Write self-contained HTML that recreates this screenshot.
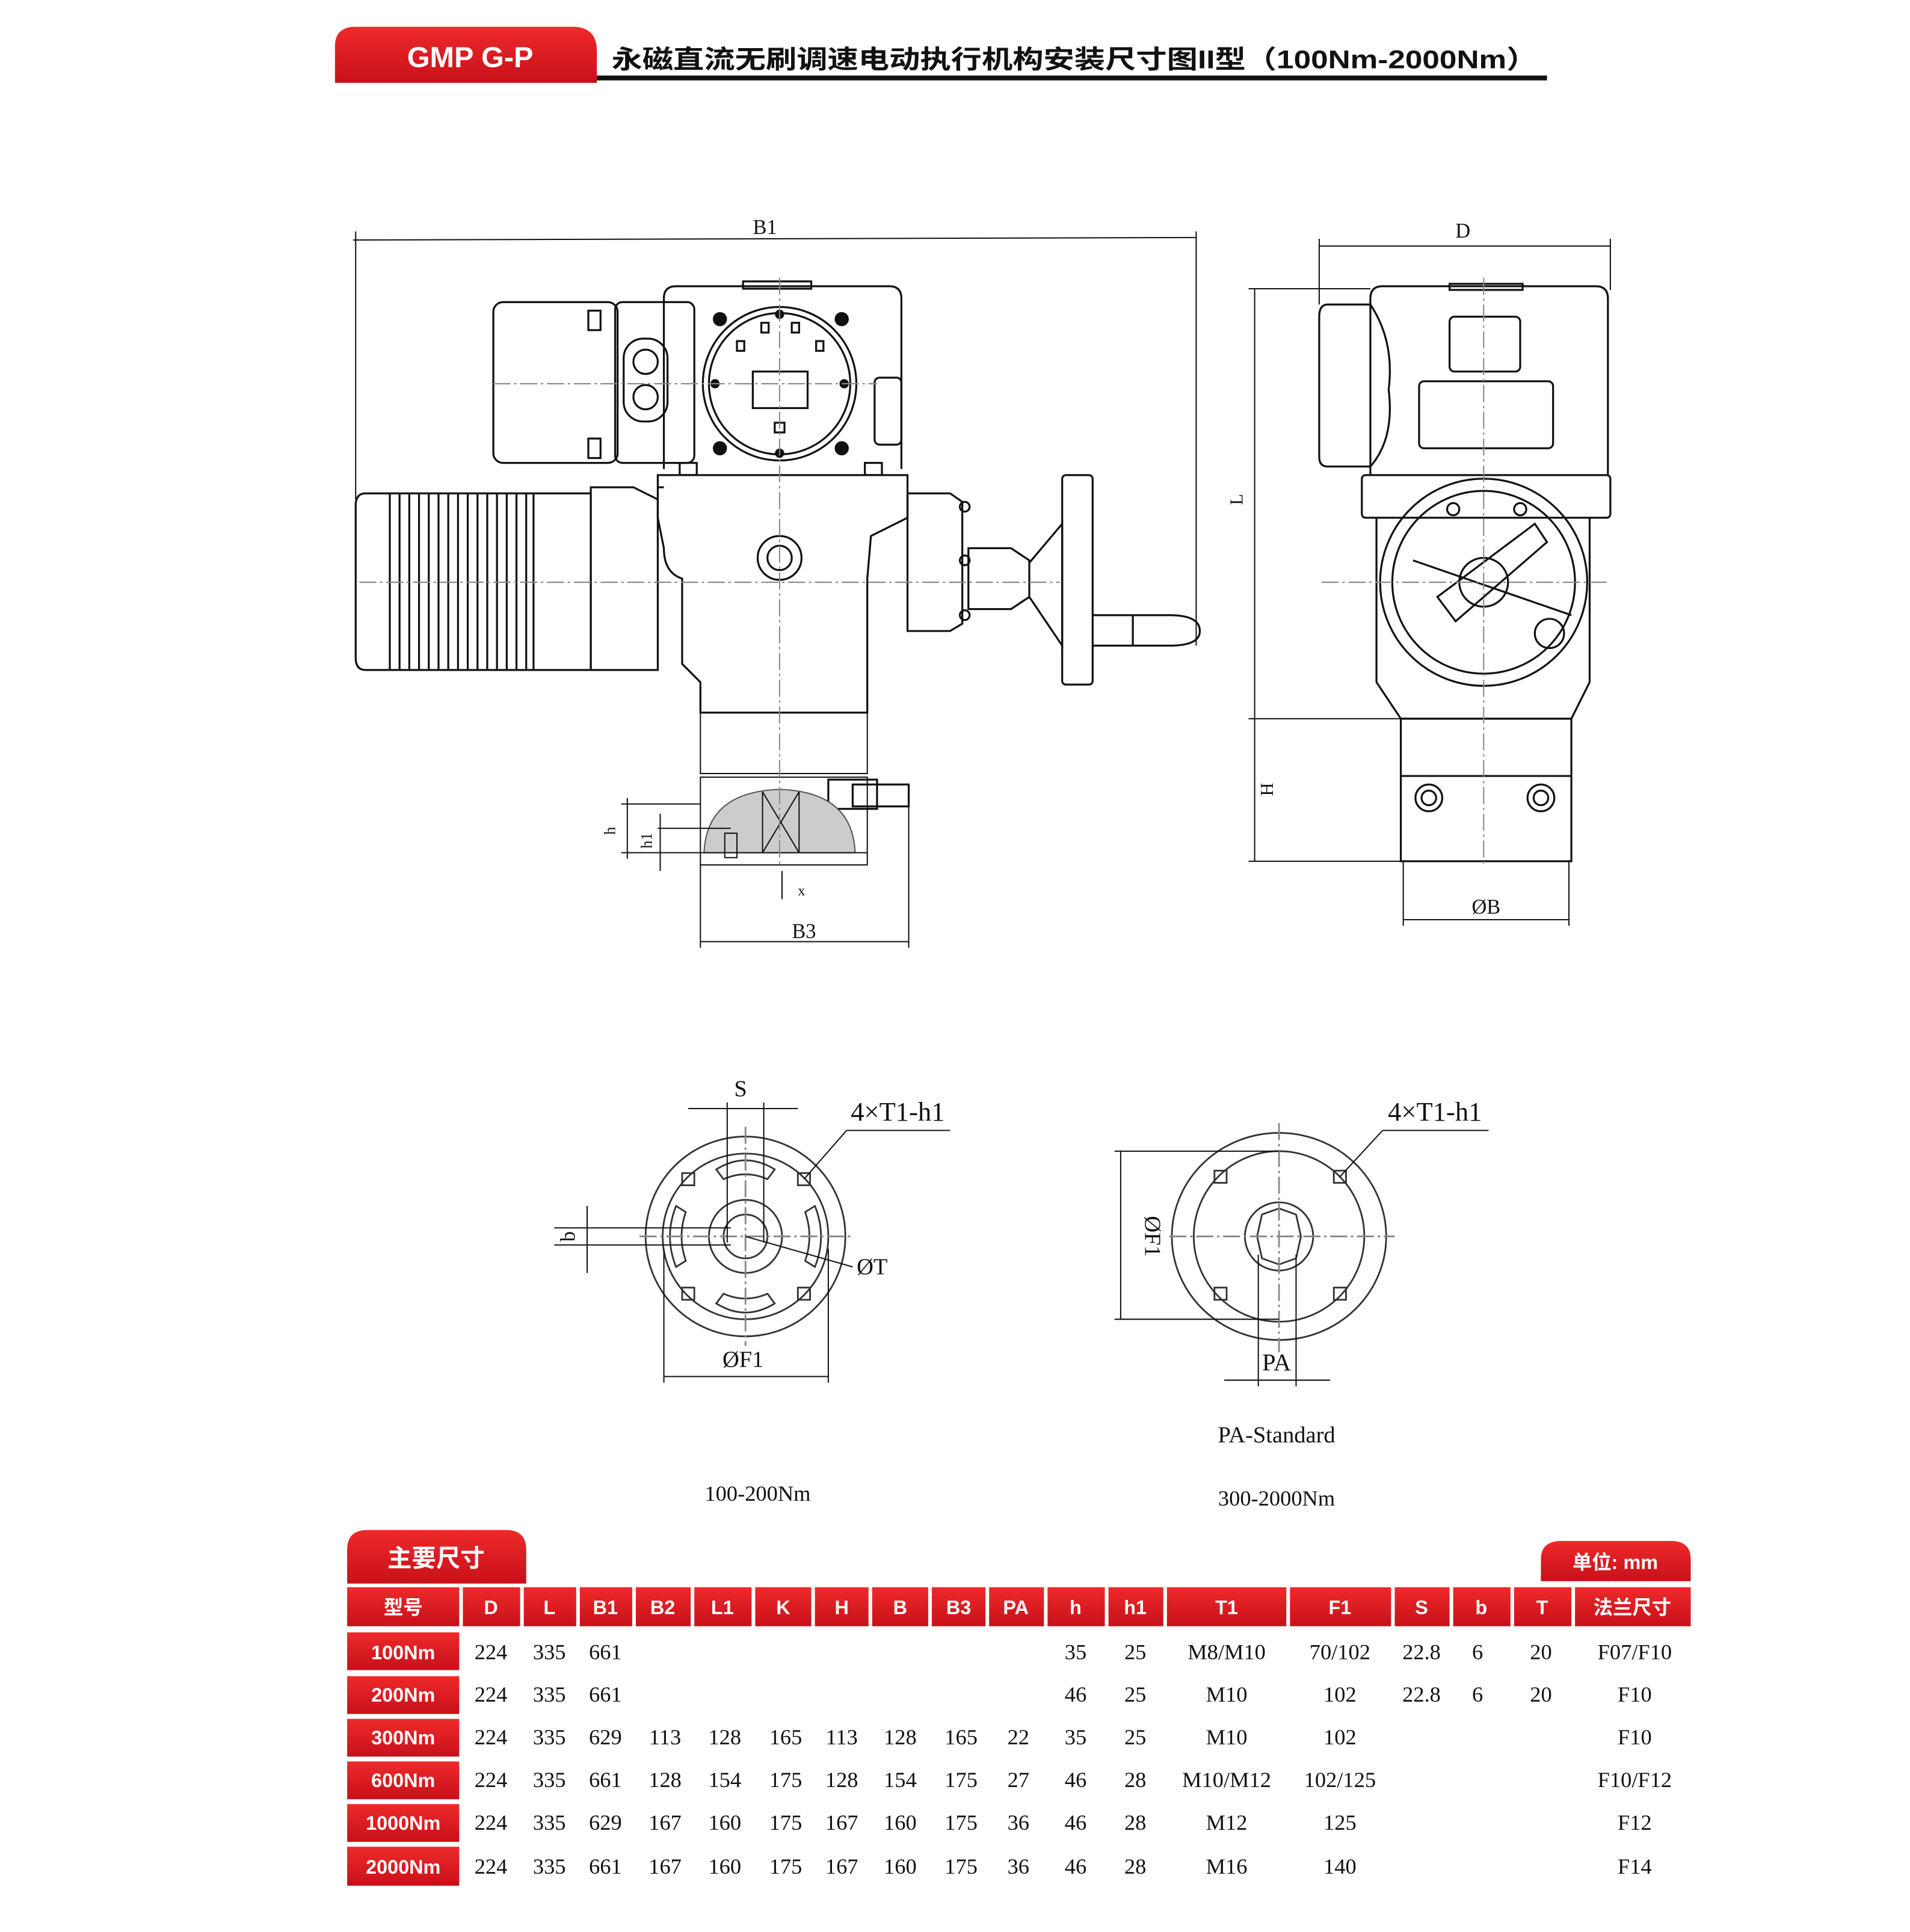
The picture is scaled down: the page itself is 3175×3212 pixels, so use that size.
<!DOCTYPE html>
<html><head><meta charset="utf-8"><style>
html,body{margin:0;padding:0;background:#fff;}
svg{display:block;}
.t{font-family:"Liberation Serif",serif;fill:#111;}
.cn{font-family:"Liberation Sans","Noto Sans CJK SC",sans-serif;}
</style></head><body>
<svg width="3175" height="3212" viewBox="0 0 1568 1586" preserveAspectRatio="none" xmlns="http://www.w3.org/2000/svg">
<defs>
<linearGradient id="rg" x1="0" y1="0" x2="0" y2="1"><stop offset="0" stop-color="#ee2a2a"/><stop offset="1" stop-color="#c8101a"/></linearGradient>
</defs>
<rect width="1568" height="1586" fill="#fff"/>
<!-- header -->
<path d="M275 68 L275 38 Q275 22 292 22 L470 22 Q490 22 490 42 L490 68 Z" fill="url(#rg)"/>
<text x="386" y="55" text-anchor="middle" class="cn" font-size="24" font-weight="bold" fill="#fff">GMP G-P</text>
<text x="502" y="56" class="cn" font-size="21" font-weight="bold" fill="#111" textLength="760" lengthAdjust="spacingAndGlyphs">永磁直流无刷调速电动执行机构安装尺寸图II型（100Nm-2000Nm）</text>
<rect x="490" y="62" width="780" height="4" fill="#111"/>

<g fill="none" stroke="#111" stroke-width="1.6">
<!-- B1 dimension -->
<line x1="290" y1="197" x2="982" y2="195" stroke-width="1"/>
<line x1="292" y1="190" x2="292" y2="410" stroke-width="1"/>
<line x1="982" y1="190" x2="982" y2="530" stroke-width="1"/>
<!-- terminal box -->
<rect x="405" y="248" width="102" height="132" rx="8"/>
<rect x="483" y="255" width="10" height="16"/><rect x="483" y="360" width="10" height="16"/>
<rect x="505" y="248" width="65" height="132" rx="6"/>
<rect x="512" y="278" width="36" height="68" rx="16"/>
<circle cx="530" cy="297" r="10"/><circle cx="530" cy="326" r="10"/>
<!-- control box -->
<path d="M545 385 L545 245 Q545 235 555 235 L730 235 Q740 235 740 245 L740 385"/>
<rect x="610" y="231" width="56" height="6"/>
<circle cx="640" cy="315" r="63"/><circle cx="640" cy="315" r="58"/>
<circle cx="591" cy="262" r="5" fill="#111"/><circle cx="691" cy="262" r="5" fill="#111"/>
<circle cx="591" cy="368" r="5" fill="#111"/><circle cx="691" cy="368" r="5" fill="#111"/>
<circle cx="640" cy="258" r="3" fill="#111"/><circle cx="640" cy="372" r="3" fill="#111"/>
<circle cx="587" cy="315" r="3" fill="#111"/><circle cx="693" cy="315" r="3" fill="#111"/>
<rect x="618" y="305" width="45" height="30"/>
<rect x="636" y="347" width="8" height="8"/>
<rect x="625" y="265" width="6" height="8"/><rect x="650" y="265" width="6" height="8"/>
<rect x="605" y="280" width="6" height="8"/><rect x="670" y="280" width="6" height="8"/>
<rect x="718" y="310" width="22" height="55" rx="4"/>
<rect x="558" y="380" width="14" height="10"/><rect x="710" y="380" width="14" height="10"/>
<!-- gearbox -->
<path d="M540 390 L745 390 L745 425 L715 440 L712 475 L712 585 L575 585 L575 560 L560 545 L560 475 Q545 470 545 450 L540 425 Z"/>
<circle cx="640" cy="458" r="18"/><circle cx="640" cy="458" r="10"/>
<!-- motor -->
<path d="M300 405 L485 405 L485 550 L300 550 Q292 550 292 540 L292 415 Q292 405 300 405 Z"/>
<path d="M485 400 L520 400 L540 410 L540 550 L485 550 Z"/>
<line x1="540" y1="400" x2="545" y2="400"/>
</g>
<g stroke="#111" stroke-width="1.6">
<line x1="320" y1="405" x2="320" y2="550"/><line x1="328" y1="405" x2="328" y2="550"/>
<line x1="336" y1="405" x2="336" y2="550"/><line x1="344" y1="405" x2="344" y2="550"/>
<line x1="352" y1="405" x2="352" y2="550"/><line x1="360" y1="405" x2="360" y2="550"/>
<line x1="368" y1="405" x2="368" y2="550"/><line x1="376" y1="405" x2="376" y2="550"/>
<line x1="384" y1="405" x2="384" y2="550"/><line x1="392" y1="405" x2="392" y2="550"/>
<line x1="400" y1="405" x2="400" y2="550"/><line x1="408" y1="405" x2="408" y2="550"/>
<line x1="416" y1="405" x2="416" y2="550"/><line x1="424" y1="405" x2="424" y2="550"/>
<line x1="432" y1="405" x2="432" y2="550"/><line x1="438" y1="405" x2="438" y2="550"/>
</g>
<g fill="none" stroke="#111" stroke-width="1.6">
<!-- right gear & handwheel -->
<path d="M745 405 L780 405 L790 412 L790 512 L780 518 L745 518 Z"/>
<circle cx="792" cy="416" r="4"/><circle cx="792" cy="460" r="4"/><circle cx="792" cy="505" r="4"/>
<path d="M795 450 L830 450 L845 460 L845 490 L830 500 L795 500 Z"/>
<path d="M845 462 L872 430 L872 530 L845 490"/>
<rect x="872" y="390" width="25" height="172" rx="3"/>
<path d="M897 505 L960 505 Q985 505 985 518 Q985 530 960 530 L897 530"/>
<line x1="930" y1="505" x2="930" y2="530"/>
<!-- lower parts -->
<rect x="575" y="585" width="137" height="50" stroke-width="1"/>
<rect x="575" y="638" width="137" height="72" stroke-width="1"/>
<rect x="680" y="640" width="40" height="24"/>
<rect x="700" y="644" width="46" height="18"/>
</g>
<path d="M578 700 Q580 650 640 648 Q700 650 702 700 Z" fill="#ccc" stroke="#555" stroke-width="1"/>
<g fill="none" stroke="#111" stroke-width="1">
<line x1="626" y1="650" x2="626" y2="700"/><line x1="656" y1="650" x2="656" y2="700"/>
<line x1="626" y1="650" x2="656" y2="700"/><line x1="656" y1="650" x2="626" y2="700"/>
<rect x="595" y="684" width="10" height="20"/>
<line x1="510" y1="660" x2="575" y2="660"/><line x1="510" y1="700" x2="712" y2="700"/>
<line x1="540" y1="680" x2="600" y2="680"/>
<line x1="515" y1="655" x2="515" y2="705"/><line x1="542" y1="668" x2="542" y2="715"/>
<line x1="642" y1="715" x2="642" y2="738"/>
<line x1="575" y1="710" x2="575" y2="778"/><line x1="746" y1="660" x2="746" y2="778"/>
<line x1="575" y1="773" x2="746" y2="773"/>
<!-- centerlines -->
<line x1="640" y1="228" x2="640" y2="712" stroke="#888" stroke-dasharray="14,3,2,3"/>
<line x1="405" y1="315" x2="720" y2="315" stroke="#888" stroke-dasharray="14,3,2,3"/>
<line x1="295" y1="478" x2="870" y2="478" stroke="#888" stroke-dasharray="14,3,2,3"/>
</g>
<text x="628" y="192" class="t" font-size="17" text-anchor="middle">B1</text>
<text x="660" y="770" class="t" font-size="17" text-anchor="middle">B3</text>
<text x="655" y="735" class="t" font-size="12">x</text>
<text x="505" y="682" class="t" font-size="13" transform="rotate(-90 505 682)" text-anchor="middle">h</text>
<text x="535" y="690" class="t" font-size="13" transform="rotate(-90 535 690)" text-anchor="middle">h1</text>

<!-- side view -->
<g fill="none" stroke="#111" stroke-width="1.6">
<line x1="1083" y1="202" x2="1322" y2="202" stroke-width="1"/>
<line x1="1083" y1="196" x2="1083" y2="250" stroke-width="1"/>
<line x1="1322" y1="196" x2="1322" y2="238" stroke-width="1"/>
<line x1="1030" y1="237" x2="1030" y2="707" stroke-width="1"/>
<line x1="1025" y1="237" x2="1125" y2="237" stroke-width="1"/>
<line x1="1025" y1="590" x2="1150" y2="590" stroke-width="1"/>
<line x1="1025" y1="707" x2="1150" y2="707" stroke-width="1"/>
<path d="M1125 390 L1125 245 Q1125 235 1135 235 L1310 235 Q1320 235 1320 245 L1320 390"/>
<rect x="1190" y="233" width="60" height="5"/>
<path d="M1125 250 L1090 250 Q1083 250 1083 260 L1083 375 Q1083 383 1090 383 L1125 383"/>
<path d="M1125 250 Q1145 280 1140 320 Q1145 360 1125 383"/>
<rect x="1190" y="260" width="58" height="45" rx="4"/>
<rect x="1165" y="313" width="110" height="55" rx="4"/>
<rect x="1118" y="390" width="204" height="35" rx="3"/>
<path d="M1130 425 L1130 560 L1150 590 L1290 590 L1305 560 L1305 425"/>
<circle cx="1218" cy="478" r="85"/><circle cx="1218" cy="478" r="75"/>
<circle cx="1218" cy="478" r="20"/>
<path d="M1180 490 L1260 430 L1270 445 L1195 510 Z"/>
<path d="M1160 460 L1290 505" />
<circle cx="1272" cy="520" r="12"/>
<circle cx="1193" cy="418" r="5"/><circle cx="1248" cy="418" r="5"/>
<rect x="1150" y="590" width="140" height="117"/>
<line x1="1150" y1="637" x2="1290" y2="637"/>
<circle cx="1173" cy="655" r="11"/><circle cx="1173" cy="655" r="6"/>
<circle cx="1265" cy="655" r="11"/><circle cx="1265" cy="655" r="6"/>
<line x1="1152" y1="755" x2="1288" y2="755" stroke-width="1"/>
<line x1="1152" y1="707" x2="1152" y2="760" stroke-width="1"/>
<line x1="1288" y1="707" x2="1288" y2="760" stroke-width="1"/>
<line x1="1218" y1="228" x2="1218" y2="712" stroke="#888" stroke-width="1" stroke-dasharray="14,3,2,3"/>
<line x1="1085" y1="478" x2="1320" y2="478" stroke="#888" stroke-width="1" stroke-dasharray="14,3,2,3"/>
</g>
<text x="1201" y="195" class="t" font-size="17" text-anchor="middle">D</text>
<text x="1220" y="750" class="t" font-size="17" text-anchor="middle">ØB</text>
<text x="1020" y="410" class="t" font-size="15" transform="rotate(-90 1020 410)" text-anchor="middle">L</text>
<text x="1045" y="648" class="t" font-size="15" transform="rotate(-90 1045 648)" text-anchor="middle">H</text>

<!-- flange 1 -->
<g fill="none" stroke="#333" stroke-width="1.4">
<circle cx="612" cy="1015" r="82"/><circle cx="612" cy="1015" r="68"/>
<circle cx="612" cy="1015" r="30"/><circle cx="612" cy="1015" r="18"/>
<path d="M588 960 Q612 945 636 960 L630 968 Q612 960 594 968 Z"/>
<path d="M588 1070 Q612 1085 636 1070 L630 1062 Q612 1070 594 1062 Z"/>
<path d="M555 990 Q545 1015 555 1040 L563 1035 Q556 1015 563 995 Z"/>
<path d="M669 990 Q679 1015 669 1040 L661 1035 Q668 1015 661 995 Z"/>
<rect x="560" y="963" width="10" height="10"/><rect x="655" y="963" width="10" height="10"/>
<rect x="560" y="1057" width="10" height="10"/><rect x="655" y="1057" width="10" height="10"/>
<line x1="525" y1="1015" x2="700" y2="1015" stroke="#888" stroke-dasharray="14,3,2,3"/>
<line x1="612" y1="925" x2="612" y2="1105" stroke="#888" stroke-dasharray="14,3,2,3"/>
</g>
<g fill="none" stroke="#111" stroke-width="1">
<line x1="565" y1="910" x2="655" y2="910"/><line x1="597" y1="905" x2="597" y2="1020"/><line x1="627" y1="905" x2="627" y2="1020"/>
<line x1="660" y1="968" x2="695" y2="928"/><line x1="695" y1="928" x2="780" y2="928"/>
<line x1="455" y1="1008" x2="600" y2="1008"/><line x1="455" y1="1022" x2="600" y2="1022"/>
<line x1="482" y1="990" x2="482" y2="1045"/>
<line x1="612" y1="1015" x2="700" y2="1040"/>
<line x1="545" y1="1025" x2="545" y2="1135"/><line x1="680" y1="1025" x2="680" y2="1135"/>
<line x1="545" y1="1130" x2="680" y2="1130"/>
</g>
<text x="608" y="900" class="t" font-size="19" text-anchor="middle">S</text>
<text x="737" y="920" class="t" font-size="22" text-anchor="middle">4×T1-h1</text>
<text x="472" y="1015" class="t" font-size="17" transform="rotate(-90 472 1015)" text-anchor="middle">b</text>
<text x="716" y="1046" class="t" font-size="19" text-anchor="middle">ØT</text>
<text x="610" y="1122" class="t" font-size="19" text-anchor="middle">ØF1</text>
<text x="622" y="1232" class="t" font-size="18" text-anchor="middle">100-200Nm</text>

<!-- flange 2 -->
<g fill="none" stroke="#333" stroke-width="1.4">
<ellipse cx="1050" cy="1015" rx="88" ry="85"/><ellipse cx="1050" cy="1015" rx="70" ry="70"/>
<circle cx="1050" cy="1015" r="28"/>
<path d="M1036 997 L1050 992 L1064 997 L1068 1015 L1064 1033 L1050 1038 L1036 1033 L1032 1015 Z"/>
<rect x="997" y="961" width="10" height="10"/><rect x="1095" y="961" width="10" height="10"/>
<rect x="997" y="1057" width="10" height="10"/><rect x="1095" y="1057" width="10" height="10"/>
<line x1="960" y1="1015" x2="1145" y2="1015" stroke="#888" stroke-dasharray="14,3,2,3"/>
<line x1="1050" y1="922" x2="1050" y2="1110" stroke="#888" stroke-dasharray="14,3,2,3"/>
</g>
<g fill="none" stroke="#111" stroke-width="1">
<line x1="1100" y1="966" x2="1135" y2="928"/><line x1="1135" y1="928" x2="1222" y2="928"/>
<line x1="915" y1="945" x2="1050" y2="945"/><line x1="915" y1="1083" x2="1050" y2="1083"/>
<line x1="920" y1="945" x2="920" y2="1083"/>
<line x1="1033" y1="1030" x2="1033" y2="1138"/><line x1="1064" y1="1030" x2="1064" y2="1138"/>
<line x1="1005" y1="1133" x2="1092" y2="1133"/>
</g>
<text x="1178" y="920" class="t" font-size="22" text-anchor="middle">4×T1-h1</text>
<text x="940" y="1015" class="t" font-size="19" transform="rotate(90 940 1015)" text-anchor="middle">ØF1</text>
<text x="1048" y="1125" class="t" font-size="20" text-anchor="middle">PA</text>
<text x="1048" y="1184" class="t" font-size="19" text-anchor="middle">PA-Standard</text>
<text x="1048" y="1236" class="t" font-size="18" text-anchor="middle">300-2000Nm</text>

<!-- table tabs -->
<path d="M285 1300 L285 1272 Q285 1256 302 1256 L415 1256 Q432 1256 432 1272 L432 1300 Z" fill="url(#rg)"/>
<text x="358" y="1286" text-anchor="middle" class="cn" font-size="20" font-weight="bold" fill="#fff">主要尺寸</text>
<path d="M1265 1298 L1265 1280 Q1265 1265 1282 1265 L1372 1265 Q1388 1265 1388 1280 L1388 1298 Z" fill="url(#rg)"/>
<text x="1326" y="1288" text-anchor="middle" class="cn" font-size="16" font-weight="bold" fill="#fff">单位: mm</text>

<!-- header cells -->
<g fill="url(#rg)">
<rect x="285" y="1303" width="92" height="32"/><rect x="380" y="1303" width="47" height="32"/>
<rect x="430" y="1303" width="43" height="32"/><rect x="476" y="1303" width="43" height="32"/>
<rect x="522" y="1303" width="45" height="32"/><rect x="570" y="1303" width="47" height="32"/>
<rect x="620" y="1303" width="46" height="32"/><rect x="669" y="1303" width="44" height="32"/>
<rect x="716" y="1303" width="46" height="32"/><rect x="765" y="1303" width="44" height="32"/>
<rect x="812" y="1303" width="45" height="32"/><rect x="860" y="1303" width="47" height="32"/>
<rect x="910" y="1303" width="45" height="32"/><rect x="958" y="1303" width="98" height="32"/>
<rect x="1059" y="1303" width="83" height="32"/><rect x="1145" y="1303" width="45" height="32"/>
<rect x="1193" y="1303" width="47" height="32"/><rect x="1243" y="1303" width="47" height="32"/>
<rect x="1293" y="1303" width="95" height="32"/>
<rect x="285" y="1340" width="92" height="31"/><rect x="285" y="1376" width="92" height="31"/>
<rect x="285" y="1411" width="92" height="31"/><rect x="285" y="1446" width="92" height="31"/>
<rect x="285" y="1481" width="92" height="31"/><rect x="285" y="1516" width="92" height="32"/>
</g>
<g class="cn" font-size="16" font-weight="bold" fill="#fff" text-anchor="middle">
<text x="331" y="1325">型号</text><text x="403" y="1325">D</text><text x="451" y="1325">L</text>
<text x="497" y="1325">B1</text><text x="544" y="1325">B2</text><text x="593" y="1325">L1</text>
<text x="643" y="1325">K</text><text x="691" y="1325">H</text><text x="739" y="1325">B</text>
<text x="787" y="1325">B3</text><text x="834" y="1325">PA</text><text x="883" y="1325">h</text>
<text x="932" y="1325">h1</text><text x="1007" y="1325">T1</text><text x="1100" y="1325">F1</text>
<text x="1167" y="1325">S</text><text x="1216" y="1325">b</text><text x="1266" y="1325">T</text>
<text x="1340" y="1325">法兰尺寸</text>
<text x="331" y="1362">100Nm</text><text x="331" y="1397">200Nm</text><text x="331" y="1432">300Nm</text>
<text x="331" y="1467">600Nm</text><text x="331" y="1502">1000Nm</text><text x="331" y="1538">2000Nm</text>
</g>
<g class="t" font-size="18" fill="#111" text-anchor="middle">
<text x="403" y="1362">224</text><text x="451" y="1362">335</text><text x="497" y="1362">661</text>
<text x="883" y="1362">35</text><text x="932" y="1362">25</text><text x="1007" y="1362">M8/M10</text><text x="1100" y="1362">70/102</text><text x="1167" y="1362">22.8</text><text x="1213" y="1362">6</text><text x="1265" y="1362">20</text><text x="1342" y="1362">F07/F10</text>
<text x="403" y="1397">224</text><text x="451" y="1397">335</text><text x="497" y="1397">661</text>
<text x="883" y="1397">46</text><text x="932" y="1397">25</text><text x="1007" y="1397">M10</text><text x="1100" y="1397">102</text><text x="1167" y="1397">22.8</text><text x="1213" y="1397">6</text><text x="1265" y="1397">20</text><text x="1342" y="1397">F10</text>
<text x="403" y="1432">224</text><text x="451" y="1432">335</text><text x="497" y="1432">629</text><text x="546" y="1432">113</text><text x="595" y="1432">128</text><text x="645" y="1432">165</text><text x="691" y="1432">113</text><text x="739" y="1432">128</text><text x="789" y="1432">165</text><text x="836" y="1432">22</text>
<text x="883" y="1432">35</text><text x="932" y="1432">25</text><text x="1007" y="1432">M10</text><text x="1100" y="1432">102</text><text x="1342" y="1432">F10</text>
<text x="403" y="1467">224</text><text x="451" y="1467">335</text><text x="497" y="1467">661</text><text x="546" y="1467">128</text><text x="595" y="1467">154</text><text x="645" y="1467">175</text><text x="691" y="1467">128</text><text x="739" y="1467">154</text><text x="789" y="1467">175</text><text x="836" y="1467">27</text>
<text x="883" y="1467">46</text><text x="932" y="1467">28</text><text x="1007" y="1467">M10/M12</text><text x="1100" y="1467">102/125</text><text x="1342" y="1467">F10/F12</text>
<text x="403" y="1502">224</text><text x="451" y="1502">335</text><text x="497" y="1502">629</text><text x="546" y="1502">167</text><text x="595" y="1502">160</text><text x="645" y="1502">175</text><text x="691" y="1502">167</text><text x="739" y="1502">160</text><text x="789" y="1502">175</text><text x="836" y="1502">36</text>
<text x="883" y="1502">46</text><text x="932" y="1502">28</text><text x="1007" y="1502">M12</text><text x="1100" y="1502">125</text><text x="1342" y="1502">F12</text>
<text x="403" y="1538">224</text><text x="451" y="1538">335</text><text x="497" y="1538">661</text><text x="546" y="1538">167</text><text x="595" y="1538">160</text><text x="645" y="1538">175</text><text x="691" y="1538">167</text><text x="739" y="1538">160</text><text x="789" y="1538">175</text><text x="836" y="1538">36</text>
<text x="883" y="1538">46</text><text x="932" y="1538">28</text><text x="1007" y="1538">M16</text><text x="1100" y="1538">140</text><text x="1342" y="1538">F14</text>
</g>
</svg>
</body></html>
